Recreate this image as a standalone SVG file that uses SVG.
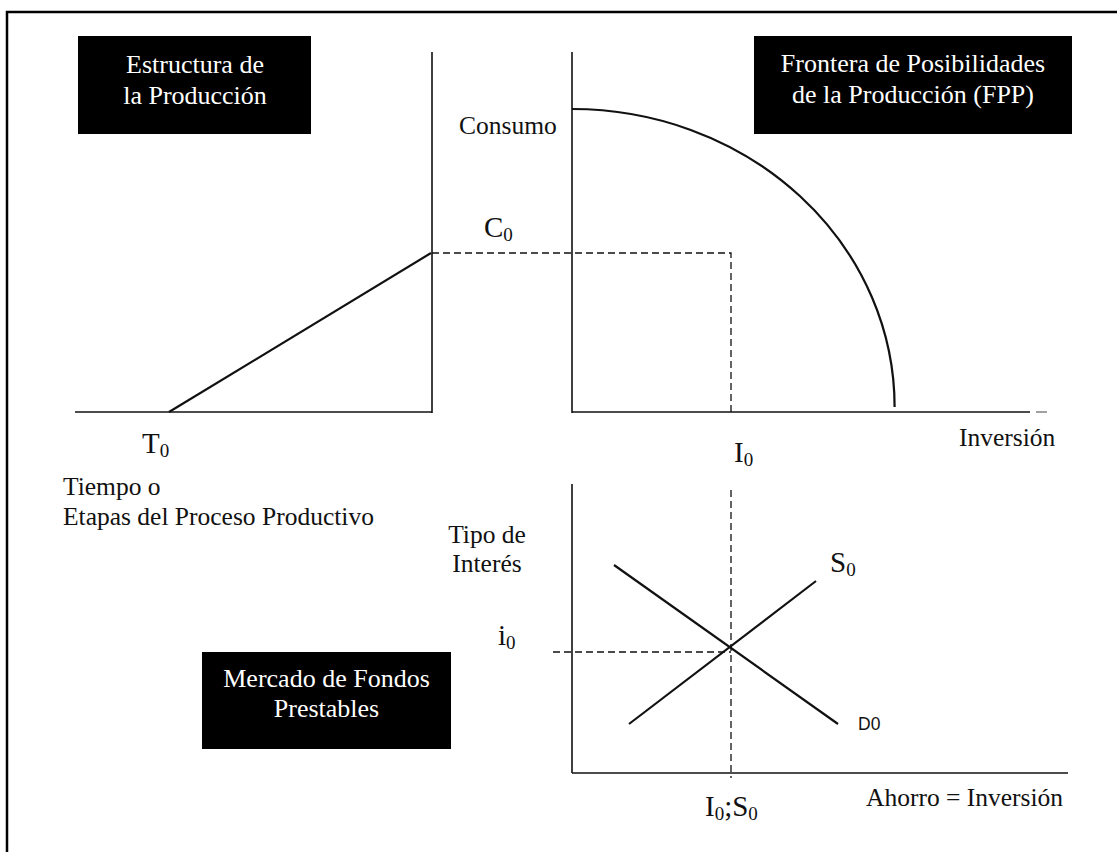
<svg xmlns="http://www.w3.org/2000/svg" width="1117" height="852" viewBox="0 0 1117 852">
<style>
.t{font-family:"Liberation Serif","Times New Roman",serif;font-size:25.5px;fill:#111}
.big{font-family:"Liberation Serif","Times New Roman",serif;font-size:29px;fill:#111}
.sub{font-size:19px}
.w{font-family:"Liberation Serif","Times New Roman",serif;font-size:26px;fill:#fff;text-anchor:middle}
.ax{stroke:#111;stroke-width:1.6;fill:none}
.cv{stroke:#111;stroke-width:2.2;fill:none}
.ds{stroke:#111;stroke-width:1.3;fill:none;stroke-dasharray:7 4}
.box{fill:#000}
</style>
<rect width="1117" height="852" fill="#fff"/>
<g id="frame">
<path d="M7,852 V12 H1117" stroke="#000" stroke-width="2.5" fill="none"/>
</g>
<g id="box-estructura">
<rect class="box" x="78" y="36" width="233" height="98"/>
<text class="w" x="195" y="73">Estructura de</text>
<text class="w" x="195" y="104">la Producción</text>
</g>
<g id="box-fpp">
<rect class="box" x="754" y="36" width="318" height="98"/>
<text class="w" x="913" y="72">Frontera de Posibilidades</text>
<text class="w" x="913" y="103">de la Producción (FPP)</text>
</g>
<g id="box-mercado">
<rect class="box" x="202" y="652" width="249" height="97"/>
<text class="w" x="326.5" y="687">Mercado de Fondos</text>
<text class="w" x="326.5" y="717">Prestables</text>
</g>
<g id="connectors">
<line class="ax" x1="432" y1="52" x2="432" y2="413"/>
<line class="ax" x1="75" y1="412" x2="432" y2="412"/>
<line class="cv" x1="169" y1="412" x2="431" y2="253"/>
<line class="ax" x1="572" y1="52" x2="572" y2="413"/>
<line class="ax" x1="572" y1="412" x2="1030" y2="412"/>
<line x1="1036" y1="412" x2="1047" y2="412" stroke="#777" stroke-width="1.4"/>
<path class="cv" d="M572,109 A322.6,298 0 0 1 894.6,407"/>
<path class="ds" d="M432,253 H731 V412"/>
<line class="ax" x1="572" y1="484" x2="572" y2="773"/>
<line class="ax" x1="572" y1="773" x2="1068" y2="773"/>
<line class="ds" x1="731" y1="490" x2="731" y2="778"/>
<line class="ds" x1="553" y1="652" x2="731" y2="652"/>
<line class="cv" x1="614" y1="565" x2="838" y2="724"/>
<line class="cv" x1="629" y1="724" x2="816" y2="581"/>
</g>
<g id="labels">
<text class="t" x="459" y="134">Consumo</text>
<text class="big" x="484" y="237">C<tspan class="sub" dy="4">0</tspan></text>
<text class="big" x="142" y="453">T<tspan class="sub" dy="4">0</tspan></text>
<text class="t" x="63" y="495">Tiempo o</text>
<text class="t" x="63" y="525">Etapas del Proceso Productivo</text>
<text class="t" x="959" y="446">Inversión</text>
<text class="big" x="734" y="462">I<tspan class="sub" dy="4">0</tspan></text>
<text class="t" x="487" y="543" text-anchor="middle">Tipo de</text>
<text class="t" x="487" y="572" text-anchor="middle">Interés</text>
<text class="big" x="498" y="645">i<tspan class="sub" dy="4">0</tspan></text>
<text class="big" x="830" y="572">S<tspan class="sub" dy="4">0</tspan></text>
<text x="858" y="730" font-family="Liberation Sans, Arial, sans-serif" font-size="17.5" fill="#111">D0</text>
<text class="t" x="866" y="806">Ahorro = Inversión</text>
<text class="big" x="705" y="816">I<tspan class="sub" dy="4">0</tspan><tspan dy="-4">;S</tspan><tspan class="sub" dy="4">0</tspan></text>
</g>
</svg>
